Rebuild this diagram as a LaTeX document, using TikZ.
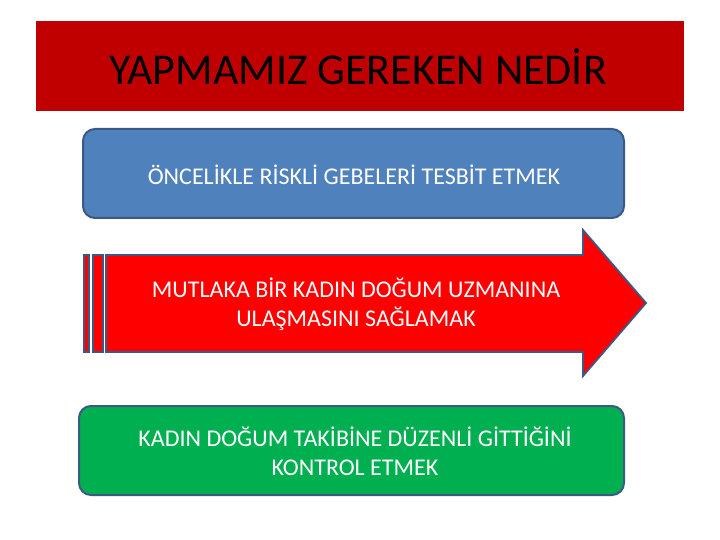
\documentclass[tikz,border=0pt]{standalone}
\usepackage{fontspec}
\setmainfont{Carlito}
\definecolor{titlered}{HTML}{C00000}
\definecolor{boxblue}{HTML}{4F81BD}
\definecolor{edgeblue}{HTML}{3A5A85}
\definecolor{arrowred}{HTML}{FF0000}
\definecolor{boxgreen}{HTML}{00B050}
\begin{document}
\begin{tikzpicture}[x=1pt,y=-1pt,
  boxtext/.style={text=white,font=\fontsize{24}{29}\selectfont,align=center},
  rbox/.style={draw=edgeblue,line width=2pt,rounded corners=12pt}]
\useasboundingbox (0,0) rectangle (720,540);
% title
\node[fill=titlered,minimum width=648pt,minimum height=90pt,inner sep=0pt,anchor=north west] (title) at (36,21) {};
\node[font=\fontsize{44}{48}\selectfont,text=black] (ttext) at (358,67) {YAPMAMIZ GEREKEN NEDİR};
% blue box
\draw[rbox,fill=boxblue] (83,129) rectangle (624,218);
\node[boxtext] (b1) at (354,175) {ÖNCELİKLE RİSKLİ GEBELERİ TESBİT ETMEK};
% striped arrow
\draw[draw=edgeblue,line width=1.8pt,fill=arrowred] (84,255) rectangle (89,352);
\draw[draw=edgeblue,line width=1.8pt,fill=arrowred] (93,255) rectangle (103,352);
\draw[draw=edgeblue,line width=1.8pt,fill=arrowred,line join=miter]
  (106,255) -- (583,255) -- (583,230) -- (646,303) -- (583,376) -- (583,352) -- (106,352) -- cycle;
\node[boxtext] (b2) at (356,304) {MUTLAKA BİR KADIN DOĞUM UZMANINA\\ULAŞMASINI SAĞLAMAK};
% green box
\draw[rbox,fill=boxgreen] (79,406) rectangle (624,495);
\node[boxtext] (b3) at (355,451) {KADIN DOĞUM TAKİBİNE DÜZENLİ GİTTİĞİNİ\\KONTROL ETMEK};
\end{tikzpicture}
\end{document}
